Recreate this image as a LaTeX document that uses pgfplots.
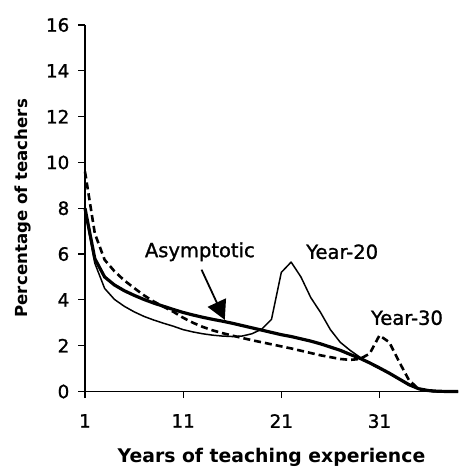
\documentclass[border=0pt]{standalone}
\usepackage{fontspec}
\setmainfont{DejaVu Sans}
\newfontfamily\heavyfont[FakeBold=1.2]{DejaVu Sans}
\usepackage{pgfplots}
\pgfplotsset{compat=1.18}
\usetikzlibrary{arrows.meta}
\begin{document}
\begin{tikzpicture}
\begin{axis}[
  at={(0pt,0pt)}, anchor=south west,
  scale only axis, width=373pt, height=366.5pt,
  xmin=1, xmax=39, ymin=0, ymax=16,
  axis x line*=bottom, axis y line*=left,
  axis line style={line width=1.2pt, -},
  xtick={1,11,21,31}, ytick={0,2,...,16},
  tick align=outside, major tick length=6.5pt,
  tick style={line width=1.2pt, black},
  /pgf/number format/assume math mode=true,
  ticklabel style={font=\heavyfont\fontsize{18.3}{20}\selectfont},
  yticklabel style={inner sep=0pt, xshift=-9pt},
  xticklabel style={inner sep=0pt, yshift=-16pt},
  xlabel={\bfseries Years of teaching experience},
  ylabel={\bfseries Percentage of teachers},
  xlabel style={font=\fontsize{18.8}{20}\selectfont, at={(axis description cs:0.5,0)}, anchor=center, yshift=-66pt},
  ylabel style={font=\fontsize{16.6}{18}\selectfont, at={(axis description cs:0,0.5)}, anchor=center, xshift=0pt, yshift=62pt},
  clip=false,
]
\addplot[black, line width=3.2pt, line join=round] coordinates {
(1,8.0)(2,5.8)(3,5.0)(4,4.65)(5,4.4)(6,4.2)(7,4.02)(8,3.86)(9,3.72)(10,3.58)
(11,3.45)(12,3.34)(13,3.24)(14,3.15)(15,3.07)(16,2.98)(17,2.88)(18,2.78)(19,2.68)(20,2.58)
(21,2.48)(22,2.4)(23,2.3)(24,2.2)(25,2.08)(26,1.94)(27,1.8)(28,1.62)(29,1.45)(30,1.25)
(31,1.03)(32,0.8)(33,0.55)(34,0.3)(35,0.12)(36,0.04)(37,0.01)(38,0)(39,0)};
\addplot[black, line width=1.5pt, line join=round] coordinates {
(1,7.9)(2,5.6)(3,4.5)(4,4.02)(5,3.72)(6,3.48)(7,3.28)(8,3.12)(9,2.98)(10,2.85)
(11,2.7)(12,2.6)(13,2.52)(14,2.46)(15,2.42)(16,2.4)(17,2.42)(18,2.52)(19,2.72)(20,3.15)
(21,5.2)(22,5.65)(23,5.0)(24,4.1)(25,3.45)(26,2.7)(27,2.15)(28,1.8)(29,1.5)(30,1.23)
(31,1.0)(32,0.78)(33,0.53)(34,0.28)(35,0.11)(36,0.03)(37,0)(38,0)(39,0)};
\addplot[black, line width=2.6pt, dash pattern=on 7pt off 4pt] coordinates {
(1,9.6)(2,6.9)(3,5.75)(4,5.25)(5,4.85)(6,4.52)(7,4.2)(8,3.93)(9,3.7)(10,3.48)
(11,3.22)(12,3.0)(13,2.82)(14,2.67)(15,2.55)(16,2.44)(17,2.34)(18,2.24)(19,2.15)(20,2.06)
(21,1.97)(22,1.88)(23,1.78)(24,1.68)(25,1.58)(26,1.5)(27,1.42)(28,1.38)(29,1.42)(30,1.65)
(31,2.45)(32,2.15)(33,1.3)(34,0.5)(35,0.1)(36,0.02)(37,0)(38,0)(39,0)};
\node[font=\heavyfont\fontsize{19.5}{21}\selectfont] at (axis cs:12.7,6.1) {Asymptotic};
\node[font=\heavyfont\fontsize{19.5}{21}\selectfont] at (axis cs:27.2,6.1) {Year-20};
\node[font=\heavyfont\fontsize{19.5}{21}\selectfont] at (axis cs:33.8,3.22) {Year-30};
\draw[line width=1.8pt, -{Triangle[width=20pt,length=19pt]}] (axis cs:12.87,5.32) -- (axis cs:15.24,3.13);
\end{axis}
\useasboundingbox (-85pt,-81.5pt) rectangle (373pt,391.5pt);
\end{tikzpicture}
\end{document}
